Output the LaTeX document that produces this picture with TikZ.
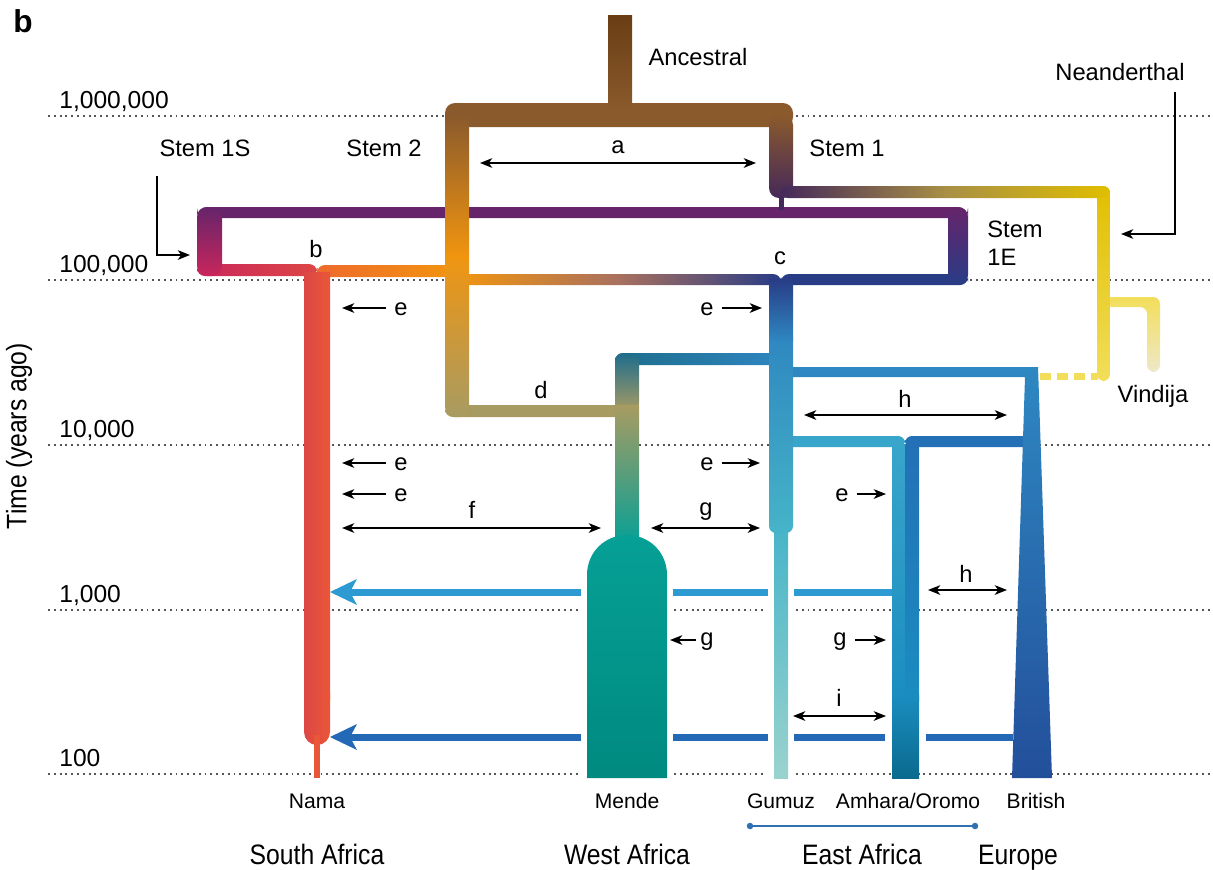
\documentclass[tikz,border=0pt]{standalone}
\usepackage{fontspec}
\usepackage{graphicx}
\setmainfont{Liberation Sans}
\usetikzlibrary{arrows.meta}

\definecolor{gridgray}{HTML}{555555}
\definecolor{ancdark}{HTML}{6A3D14}
\definecolor{ancbrown}{HTML}{8A5A2C}
\definecolor{stemorange}{HTML}{F2950F}
\definecolor{olivetan}{HTML}{A89B62}
\definecolor{stempurple}{HTML}{66246A}
\definecolor{darkplum}{HTML}{45295A}
\definecolor{stemmag}{HTML}{C9265C}
\definecolor{stemnavy}{HTML}{283C86}
\definecolor{borange}{HTML}{EE6A2C}
\definecolor{rosebrown}{HTML}{A8705F}
\definecolor{neayellow}{HTML}{E0BE00}
\definecolor{neaolive}{HTML}{A88F45}
\definecolor{neapale}{HTML}{F2DE5A}
\definecolor{vinpale}{HTML}{EEE8C8}
\definecolor{namadeep}{HTML}{DD4745}
\definecolor{namared}{HTML}{EA5638}
\definecolor{gumuzmid}{HTML}{2E86C0}
\definecolor{gumuzlow}{HTML}{46B4C8}
\definecolor{gumuzpale}{HTML}{9AD3CE}
\definecolor{mendedark}{HTML}{1E6D8C}
\definecolor{mendeteal}{HTML}{06A096}
\definecolor{mendedeep}{HTML}{008A80}
\definecolor{britop}{HTML}{2E88C2}
\definecolor{bribot}{HTML}{234F9A}
\definecolor{amhlight}{HTML}{38A5CA}
\definecolor{amhdark}{HTML}{2370B6}
\definecolor{amhmid}{HTML}{1A8DC0}
\definecolor{amhdeep}{HTML}{0A6A8E}
\definecolor{flowlight}{HTML}{2D9BD2}
\definecolor{flowdark}{HTML}{2369B5}
\definecolor{eastblue}{HTML}{2F70B0}

\newcommand{\condensed}[1]{\scalebox{0.88}[1]{#1}}

\begin{document}
\begin{tikzpicture}[x=0.02cm, y=-0.02cm,
    lbl/.style={font=\fontsize{13.5}{15}\selectfont, inner sep=0pt},
    poplbl/.style={font=\fontsize{12}{14}\selectfont, inner sep=0pt, anchor=base},
    reglbl/.style={font=\fontsize{16}{18}\selectfont, inner sep=0pt, anchor=base},
    gridline/.style={line width=1.1pt, dash pattern=on 1.1pt off 2.2pt, color=gridgray},
    ann/.style={line width=0.75pt, -{Stealth[length=7pt, width=5.5pt, inset=2pt]}},
    annboth/.style={line width=0.75pt, {Stealth[length=7pt, width=5.5pt, inset=2pt]}-{Stealth[length=7pt, width=5.5pt, inset=2pt]}},
    flowa/.style={line width=0.14cm, color=flowlight},
    flowb/.style={line width=0.14cm, color=flowdark}]
  \useasboundingbox (0,0) rectangle (1213,869);

  % time grid
  \foreach \yy/\txt/\nm in {116/{1,000,000}/g6, 280/{100,000}/g5, 445/{10,000}/g4, 610/{1,000}/g3, 774/{100}/g2} {
    \draw[gridline] (48,\yy) -- (1213,\yy);
    \node[lbl, anchor=base west, font=\fontsize{14}{16}\selectfont] (\nm) at (59,{\yy-8}) {\txt};
  }
  \fill[white] (581,585) rectangle (673,780);
  \fill[white] (766,585) rectangle (796,780);

  \node[font=\fontsize{18}{20}\selectfont\bfseries, inner sep=0pt] (panel) at (23,21) {b};
  \node[rotate=90, font=\fontsize{16}{18}\selectfont, inner sep=0pt] (timeax) at (19,436) {\condensed{Time (years ago)}};

  % stem 1S / 1E loop
  \fill[stempurple, rounded corners=0.2cm] (197,207) rectangle (968,218);
  \shade[left color=stemmag, right color=namadeep, rounded corners=0.16cm] (197,264) rectangle (317,276);
  \fill[stemnavy, rounded corners=0.16cm] (781,274) rectangle (968,285);
  \shade[top color=stempurple, bottom color=stemmag, rounded corners=0.2cm] (197,207) rectangle (222,276);
  \shade[top color=stempurple, bottom color=stemnavy, rounded corners=0.2cm] (948,207) rectangle (968,285);

  % stem 2 into b and c
  \shade[left color=borange, right color=stemorange, rounded corners=0.16cm] (317,265) rectangle (457,277);
  \shade[left color=stemorange, right color=stemnavy, middle color=rosebrown, rounded corners=0.16cm] (457,274) rectangle (781,285);

  % ancestral split
  \fill[ancbrown, rounded corners=0.2cm] (445,103) rectangle (793,127);
  \fill[olivetan, rounded corners=0.16cm] (445,405) rectangle (627,417);
  \shade[top color=stemorange, bottom color=olivetan, rounded corners=0.2cm] (445,250) rectangle (469,417);
  \shade[top color=ancbrown, bottom color=stemorange] (445,115) rectangle (469,258);
  \shade[top color=ancbrown, bottom color=darkplum, rounded corners=0.2cm] (769,115) rectangle (793,198);
  \shade[top color=ancdark, bottom color=ancbrown] (608,15) rectangle (632,110);

  % Neanderthal and Vindija
  \shade[top color=neapale, bottom color=vinpale, rounded corners=0.14cm] (1105,297) -- (1160,297) -- (1160,372) -- (1147,372) -- (1147,307) -- (1105,307) -- cycle;
  \shade[top color=neayellow, bottom color=neapale, rounded corners=0.14cm] (1097,186) rectangle (1110,381);
  \shade[left color=darkplum, right color=neayellow, middle color=neaolive, rounded corners=0.14cm] (781,186) rectangle (1110,198);
  \fill[darkplum] (779,196) rectangle (784,210);
  \draw[neapale, line width=0.14cm, dash pattern=on 0.22cm off 0.12cm] (1040,376) -- (1098,376);

  % Nama
  \shade[left color=namadeep, right color=namared] (304,272) rectangle (330,700);
  \shade[left color=namadeep, right color=namared, rounded corners=0.26cm] (304,680) rectangle (330,745);
  \fill[namared] (314,735) rectangle (320,778);

  % Mende
  \shade[left color=mendedark, right color=gumuzmid, rounded corners=0.16cm] (615,353) rectangle (781,365);
  \shade[top color=mendedark, bottom color=olivetan, rounded corners=0.16cm] (615,353) rectangle (639,412);
  \shade[top color=olivetan, bottom color=mendeteal] (615,405) rectangle (639,545);
  \shade[top color=mendeteal, bottom color=mendedeep] (587,778) -- (587,575) .. controls (587,552) and (605,535) .. (627,535) .. controls (649,535) and (667,552) .. (667,575) -- (667,778) -- cycle;

  % Amhara/Oromo and British
  \fill[amhlight, rounded corners=0.14cm] (781,436) rectangle (905,447);
  \fill[amhdark, rounded corners=0.14cm] (905,436) rectangle (1030,447);
  \shade[top color=britop, bottom color=bribot] (781,367) -- (1038,367) -- (1052,778) -- (1012,778) -- (1025,377) -- (781,377) -- cycle;
  \shade[top color=amhlight, bottom color=amhmid] (892,444) rectangle (906,700);
  \shade[top color=amhdark, bottom color=amhmid] (905,444) rectangle (919,700);
  \shade[top color=amhmid, bottom color=amhdeep] (892,695) rectangle (919,778);

  % Gumuz
  \shade[top color=gumuzlow, bottom color=gumuzpale] (774,525) rectangle (788,778);
  \shade[top color=gumuzmid, bottom color=gumuzlow, rounded corners=0.14cm] (769,330) rectangle (793,533);
  \shade[top color=stemnavy, bottom color=gumuzmid] (769,279) rectangle (793,340);

  % recent gene flow into Nama
  \coordinate (m1-amh) at (892,592);
  \coordinate (m1-gr) at (794,592);
  \coordinate (m1-gl) at (768,592);
  \coordinate (m1-mr) at (673,592);
  \coordinate (m1-ml) at (581,592);
  \coordinate (m1-nama) at (350,592);
  \draw[flowa] (m1-amh) -- (m1-gr);
  \draw[flowa] (m1-gl) -- (m1-mr);
  \draw[flowa] (m1-ml) -- (m1-nama);
  \fill[flowlight] (330,592) -- (357,579) -- (m1-nama) -- (357,605) -- cycle;

  \coordinate (m2-bri) at (1013,737);
  \coordinate (m2-ar) at (926,737);
  \coordinate (m2-al) at (885,737);
  \coordinate (m2-gr) at (794,737);
  \coordinate (m2-gl) at (768,737);
  \coordinate (m2-mr) at (673,737);
  \coordinate (m2-ml) at (581,737);
  \coordinate (m2-nama) at (350,737);
  \draw[flowb] (m2-bri) -- (m2-ar);
  \draw[flowb] (m2-al) -- (m2-gr);
  \draw[flowb] (m2-gl) -- (m2-mr);
  \draw[flowb] (m2-ml) -- (m2-nama);
  \fill[flowdark] (330,737) -- (357,724) -- (m2-nama) -- (357,750) -- cycle;

  % lineage labels
  \node[lbl] (anc) at (698,57) {Ancestral};
  \node[lbl] (stem2) at (384,148) {Stem 2};
  \node[lbl] (stem1) at (847,148) {Stem 1};
  \node[lbl] (stem1s) at (205,148) {Stem 1S};
  \node[lbl, align=left, anchor=west] (stem1e) at (987,243) {Stem\\[1pt]1E};
  \node[lbl] (nea) at (1120,72) {Neanderthal};
  \node[lbl] (vin) at (1153,396) {Vindija};
  \coordinate (s1s-top) at (157,176);
  \coordinate (s1s-tip) at (190,255);
  \draw[ann] (s1s-top) |- (s1s-tip);
  \coordinate (nea-top) at (1175,92);
  \coordinate (nea-tip) at (1121,234);
  \draw[ann] (nea-top) |- (nea-tip);

  % event letters
  \node[lbl] (la) at (618,147) {a};
  \node[lbl] (lb) at (316,249) {b};
  \node[lbl] (lc) at (780,258) {c};
  \node[lbl] (ld) at (541,390) {d};
  \coordinate (a-l) at (480,163);
  \coordinate (a-r) at (756,163);
  \draw[annboth] (a-l) -- (a-r);

  \node[lbl] (e1) at (401,309) {e};
  \node[lbl] (e2) at (707,309) {e};
  \node[lbl] (e3) at (401,464) {e};
  \node[lbl] (e4) at (401,495) {e};
  \node[lbl] (e5) at (707,464) {e};
  \node[lbl] (e6) at (842,495) {e};
  \coordinate (e1-tip) at (342,308);
  \coordinate (e2-tip) at (762,308);
  \coordinate (e3-tip) at (342,463);
  \coordinate (e4-tip) at (342,494);
  \coordinate (e5-tip) at (760,463);
  \coordinate (e6-tip) at (886,494);
  \draw[ann] (e1.west) ++(-8,-1) -- (e1-tip);
  \draw[ann] (e2.east) ++(8,-1) -- (e2-tip);
  \draw[ann] (e3.west) ++(-8,-1) -- (e3-tip);
  \draw[ann] (e4.west) ++(-8,-1) -- (e4-tip);
  \draw[ann] (e5.east) ++(8,-1) -- (e5-tip);
  \draw[ann] (e6.east) ++(8,-1) -- (e6-tip);

  \node[lbl] (lf) at (472,510) {f};
  \coordinate (f-l) at (342,528);
  \coordinate (f-r) at (601,528);
  \draw[annboth] (f-l) -- (f-r);
  \node[lbl] (g1) at (706,512) {g};
  \coordinate (g1-l) at (651,528);
  \coordinate (g1-r) at (760,528);
  \draw[annboth] (g1-l) -- (g1-r);
  \node[lbl] (g2) at (707,642) {g};
  \coordinate (g2-tip) at (670,640);
  \draw[ann] (g2.west) ++(-4,-2) -- (g2-tip);
  \node[lbl] (g3) at (840,642) {g};
  \coordinate (g3-tip) at (886,640);
  \draw[ann] (g3.east) ++(8,-2) -- (g3-tip);

  \node[lbl] (h1) at (905,399) {h};
  \coordinate (h1-l) at (804,415);
  \coordinate (h1-r) at (1007,415);
  \draw[annboth] (h1-l) -- (h1-r);
  \node[lbl] (h2) at (966,574) {h};
  \coordinate (h2-l) at (928,590);
  \coordinate (h2-r) at (1007,590);
  \draw[annboth] (h2-l) -- (h2-r);
  \node[lbl] (li) at (839,698) {i};
  \coordinate (i-l) at (793,716);
  \coordinate (i-r) at (886,716);
  \draw[annboth] (i-l) -- (i-r);

  % populations and regions
  \node[poplbl] (nama) at (317,808) {Nama};
  \node[poplbl] (mende) at (627,808) {Mende};
  \node[poplbl] (gumuz) at (781,808) {Gumuz};
  \node[poplbl] (amhara) at (908,808) {Amhara/Oromo};
  \node[poplbl] (british) at (1036,808) {British};
  \node[reglbl] (south) at (317,864) {\condensed{South Africa}};
  \node[reglbl] (west) at (627,864) {\condensed{West Africa}};
  \node[reglbl] (east) at (862,864) {\condensed{East Africa}};
  \node[reglbl] (europe) at (1018,864) {\condensed{Europe}};
  \coordinate (ea-l) at (750,826);
  \coordinate (ea-r) at (975,826);
  \draw[eastblue, line width=0.03cm] (ea-l) -- (ea-r);
  \fill[eastblue] (ea-l) circle[radius=0.065cm];
  \fill[eastblue] (ea-r) circle[radius=0.065cm];
\end{tikzpicture}
\end{document}
